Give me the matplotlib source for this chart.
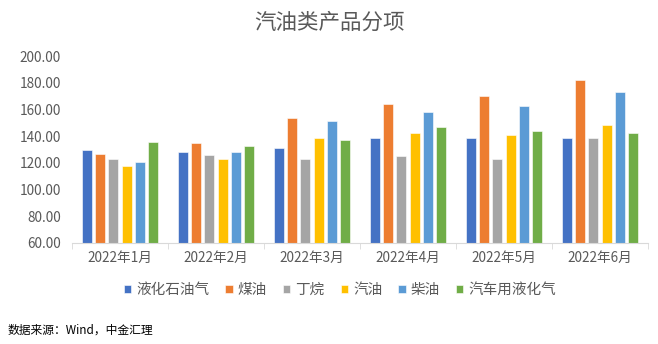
import matplotlib.pyplot as plt
import numpy as np

plt.rcParams['font.family'] = ['Noto Sans CJK SC', 'DejaVu Sans']

months = ['2022年1月', '2022年2月', '2022年3月', '2022年4月', '2022年5月', '2022年6月']
series_names = ['液化石油气', '煤油', '丁烷', '汽油', '柴油', '汽车用液化气']
lpg = [129.5, 127.8, 130.8, 138.5, 138.5, 138.5]
kerosene = [126.3, 134.5, 153.4, 164.4, 169.7, 182.3]
butane = [122.6, 125.6, 122.6, 124.8, 122.6, 138.3]
gasoline = [117.3, 123.1, 138.8, 142.0, 140.8, 148.7]
diesel = [120.8, 127.8, 151.0, 158.4, 162.9, 172.9]
auto_lpg = [135.3, 132.5, 136.8, 147.0, 143.5, 142.7]
colors = ['#4472C4', '#ED7D31', '#A5A5A5', '#FFC000', '#5B9BD5', '#70AD47']

all_series = [lpg, kerosene, butane, gasoline, diesel, auto_lpg]

fig = plt.figure(figsize=(6.58, 3.44), dpi=100)
ax = fig.add_axes([72 / 658, 1 - 243 / 344, 576 / 658, 187 / 344])

x = np.arange(len(months))
step = 0.139
width = 0.106
for i, (vals, name, c) in enumerate(zip(all_series, series_names, colors)):
    ax.bar(x + (i - 2.5) * step, np.array(vals) - 60, bottom=60, width=width,
           color=c, label=name, edgecolor='white', linewidth=0.4)

ax.set_xlim(-0.5, len(months) - 0.5)
ax.set_ylim(60, 200)
ax.set_yticks(np.arange(60, 201, 20))
ax.set_yticklabels([f'{v:.2f}' for v in np.arange(60, 201, 20)])
ax.set_xticks(x)
ax.set_xticklabels(months)
ax.set_xticks(np.arange(-0.5, len(months)), minor=True)
ax.tick_params(axis='x', which='major', length=0, pad=6, labelsize=9.8, labelcolor='#595959')
ax.tick_params(axis='x', which='minor', length=4, color='#D9D9D9')
ax.tick_params(axis='y', length=0, pad=8, labelsize=9.8, labelcolor='#595959')

for s in ['top', 'right', 'left']:
    ax.spines[s].set_visible(False)
ax.spines['bottom'].set_color('#D9D9D9')

fig.text(0.5, 1 - 23 / 344, '汽油类产品分项', ha='center', va='center',
         fontsize=15.5, color='#595959')

ax.legend(loc='center', bbox_to_anchor=((340 - 72) / 576, (243 - 290) / 187), ncol=6,
          frameon=False, fontsize=10.5, handlelength=0.5, handleheight=0.5,
          handletextpad=0.35, columnspacing=1.1, labelcolor='#595959')

fig.text(8 / 658, 1 - 330 / 344, '数据来源：Wind，中金汇理', ha='left', va='center',
         fontsize=8.5, color='black')

plt.savefig('out.png', dpi=100)
plt.close('all')
